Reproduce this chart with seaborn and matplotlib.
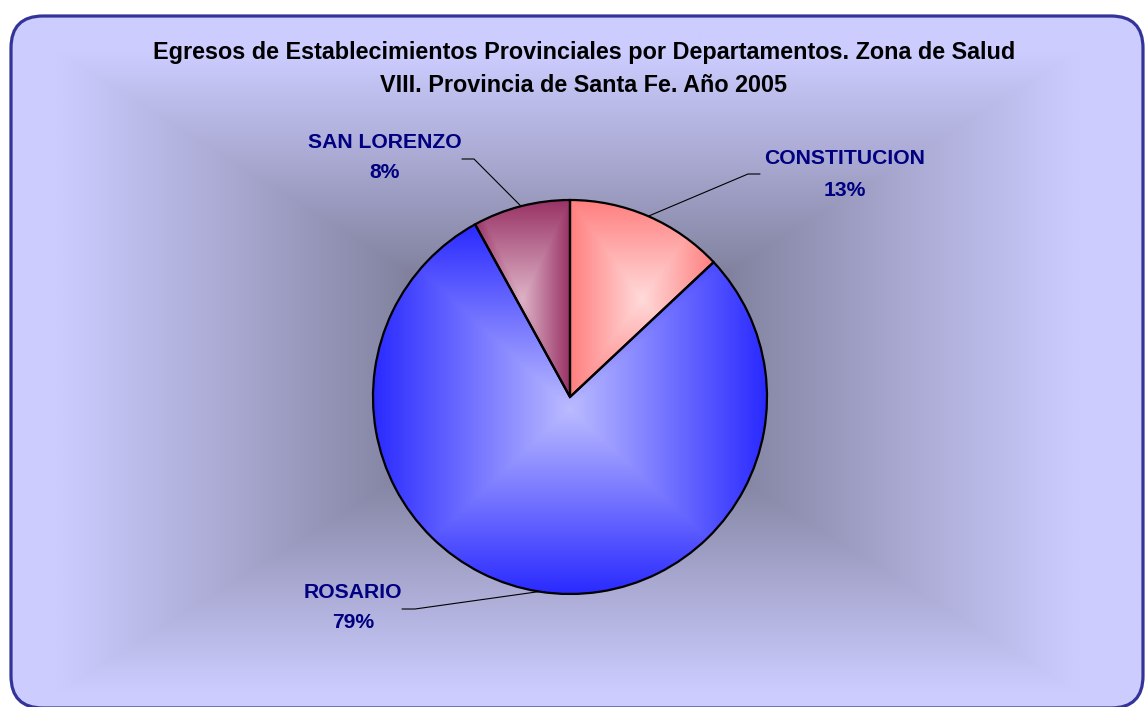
import numpy as np
import matplotlib
matplotlib.use("Agg")
import matplotlib.pyplot as plt
from matplotlib.patches import FancyBboxPatch
from matplotlib.colors import to_rgb
import seaborn as sns

# Data
departments = ["CONSTITUCION", "ROSARIO", "SAN LORENZO"]
shares = [13, 79, 8]
edge_colors = ["#FF7F7F", "#2A2AFF", "#993366"]
center_colors = ["#FFDADA", "#BBBBFF", "#DDB2C6"]
title_lines = ["Egresos de Establecimientos Provinciales por Departamentos. Zona de Salud",
               "VIII. Provincia de Santa Fe. Año 2005"]

W, H = 1145, 707
PIE_CX, PIE_CY, PIE_R = 570, 397, 197

sns.set_theme(style="white")
plt.rcParams['font.family'] = ['Liberation Sans', 'DejaVu Sans']


def rect_gradient(nx, ny, c_in, c_out, span=1.0, power=1.0):
    """Rectangular 'from center' gradient image (ny, nx, 3).
    span > 1 leaves a band of c_out around the gradient."""
    u = np.linspace(-span, span, nx)
    v = np.linspace(-span, span, ny)
    uu, vv = np.meshgrid(u, v)
    t = np.clip(np.maximum(np.abs(uu), np.abs(vv)), 0, 1) ** power
    c_in, c_out = np.array(to_rgb(c_in)), np.array(to_rgb(c_out))
    return c_in * (1 - t[..., None]) + c_out * t[..., None]


def px_to_pie(px, py):
    return (px - PIE_CX) / PIE_R, (PIE_CY - py) / PIE_R


fig = plt.figure(figsize=(W / 100, H / 100), dpi=100)
fig.patch.set_facecolor("white")

# Background panel with rounded corners and rectangular gradient
bg = fig.add_axes([0, 0, 1, 1])
bg.axis("off")
box = FancyBboxPatch((11, 16), 1132, 692, boxstyle="round,pad=0,rounding_size=32",
                     facecolor="none", edgecolor="#333399", linewidth=2.3, zorder=3)
bg.add_patch(box)
gcx, gcy, ghw, ghh, span = 568, 372, 510, 320, 2.0
grad = rect_gradient(900, 600, "#555566", "#CCCCFF", span=span, power=0.85)
im = bg.imshow(grad, extent=(gcx - span * ghw, gcx + span * ghw, gcy + span * ghh, gcy - span * ghh),
               interpolation="bilinear", zorder=1)
im.set_clip_path(box)
bg.set_xlim(0, W)
bg.set_ylim(H, 0)

for i, line in enumerate(title_lines):
    fig.text(584 / W, 1 - (52 + 33 * i) / H, line, ha="center", va="center",
             fontsize=16.8, fontweight="bold", color="black")

# Pie
half = 300
ax = fig.add_axes([(PIE_CX - half) / W, (H - PIE_CY - half) / H, 2 * half / W, 2 * half / H])
wedges, _ = ax.pie(shares, startangle=90, counterclock=False, radius=1,
                   wedgeprops=dict(edgecolor="black", linewidth=1.6, facecolor="none"))

# fill each wedge with its own gradient over the wedge's bounding box
for w, c_out, c_in in zip(wedges, edge_colors, center_colors):
    th = np.radians(np.linspace(w.theta1, w.theta2, 400))
    xs = np.concatenate([[0], np.cos(th)])
    ys = np.concatenate([[0], np.sin(th)])
    img = rect_gradient(200, 200, c_in, c_out)
    gi = ax.imshow(img, extent=(xs.min(), xs.max(), ys.min(), ys.max()), origin="lower",
                   interpolation="bilinear", zorder=1)
    gi.set_clip_path(w)
    w.set_zorder(2)

# Labels with leader lines (anchors in pixels of the reference)
label_pos = {
    "CONSTITUCION": dict(text=(845, 159, 190), elbow=(748, 174), end=(760, 174)),
    "ROSARIO": dict(text=(353, 593, 623), elbow=(415, 609), end=(402, 609)),
    "SAN LORENZO": dict(text=(385, 142, 173), elbow=(474, 159), end=(462, 159)),
}
for w, name, share in zip(wedges, departments, shares):
    mid = np.radians((w.theta1 + w.theta2) / 2)
    rim = (np.cos(mid), np.sin(mid))
    p = label_pos[name]
    ex, ey = px_to_pie(*p["elbow"])
    nx, ny = px_to_pie(*p["end"])
    ax.plot([rim[0], ex, nx], [rim[1], ey, ny], color="black", linewidth=0.8,
            zorder=3, clip_on=False)
    tx, ty1 = px_to_pie(p["text"][0], p["text"][1])
    _, ty2 = px_to_pie(p["text"][0], p["text"][2])
    ax.text(tx, ty1, name, ha="center", va="center", fontsize=15.2, fontweight="bold",
            color="#000080", clip_on=False)
    ax.text(tx, ty2, f"{share}%", ha="center", va="center", fontsize=15.2, fontweight="bold",
            color="#000080", clip_on=False)

ax.set_xlim(-half / PIE_R, half / PIE_R)
ax.set_ylim(-half / PIE_R, half / PIE_R)
ax.set_aspect("equal")
ax.axis("off")

fig.savefig("out.png", dpi=100)
